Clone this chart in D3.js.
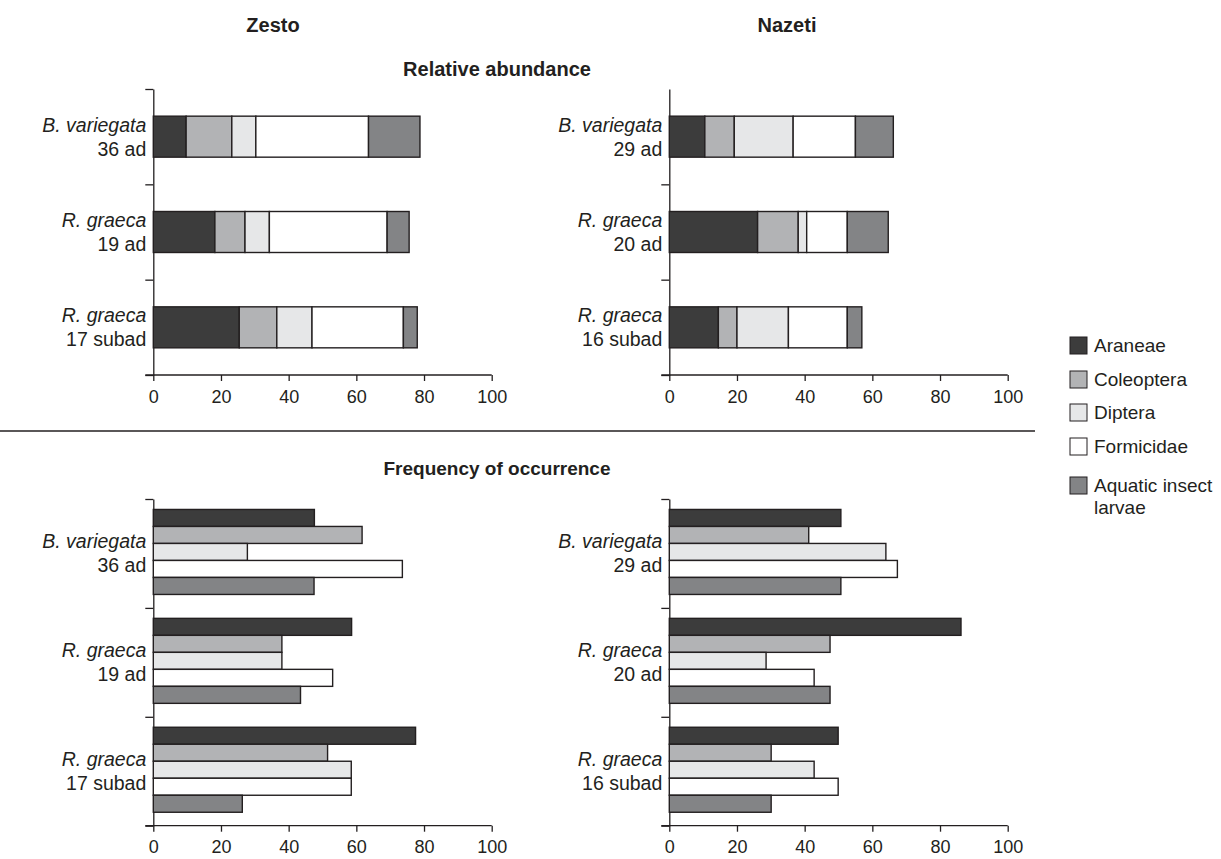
<!DOCTYPE html>
<html>
<head>
<meta charset="utf-8">
<script src="https://cdn.jsdelivr.net/npm/d3@7"></script>
<style>
  body { margin: 0; background: #fff; }
  text { font-family: "Liberation Sans", Arial, sans-serif; fill: #231f20; }
</style>
</head>
<body>
<div id="chart-area"></div>
<script>
// Data
var categories = ["Araneae", "Coleoptera", "Diptera", "Formicidae", "Aquatic insect larvae"];
var colors = ["#3c3c3c", "#b2b3b5", "#e6e7e8", "#ffffff", "#838486"];
var groupsZesto = [["B. variegata", "36 ad"], ["R. graeca", "19 ad"], ["R. graeca", "17 subad"]];
var groupsNazeti = [["B. variegata", "29 ad"], ["R. graeca", "20 ad"], ["R. graeca", "16 subad"]];
var xTicks = [0, 20, 40, 60, 80, 100];

// relative abundance (%), one row per group, segments in category order
var abundZesto = [
    [9.7, 13.5, 7.1, 33.3, 15.2],
    [18.2, 8.9, 7.2, 34.8, 6.5],
    [25.4, 11.1, 10.4, 27.0, 4.1]
];
var abundNazeti = [
    [10.5, 8.7, 17.4, 18.4, 11.2],
    [26.1, 12.0, 2.5, 12.0, 12.1],
    [14.5, 5.5, 15.2, 17.4, 4.3]
];
// frequency of occurrence (%)
var freqZesto = [
    [47.6, 61.7, 27.8, 73.6, 47.5],
    [58.6, 38.0, 38.0, 53.0, 43.5],
    [77.5, 51.5, 58.5, 58.5, 26.3]
];
var freqNazeti = [
    [50.7, 41.2, 64.0, 67.4, 50.7],
    [86.2, 47.5, 28.6, 42.8, 47.5],
    [49.9, 30.1, 42.8, 49.9, 30.1]
];

var W = 1221, H = 859;
var ink = "#231f20";

var svg = d3.select("#chart-area")
    .append("svg")
    .attr("width", W)
    .attr("height", H);

var color = d3.scaleOrdinal().domain(categories).range(colors);

// Titles
function title(txt, x, y, size) {
    svg.append("text")
        .attr("x", x).attr("y", y)
        .attr("text-anchor", "middle")
        .attr("font-size", size + "px")
        .attr("font-weight", "bold")
        .text(txt);
}
title("Zesto", 273, 32, 20);
title("Nazeti", 787, 32, 20);
title("Relative abundance", 497, 76, 20);
title("Frequency of occurrence", 497, 475, 19);

// separator
svg.append("line")
    .attr("x1", 0).attr("x2", 1035)
    .attr("y1", 431).attr("y2", 431)
    .attr("stroke", ink).attr("stroke-width", 1.3);

function panel(opts) {
    var g = svg.append("g")
        .attr("transform", "translate(" + opts.left + "," + opts.top + ")");
    var width = 338.4, height = opts.height;

    var x = d3.scaleLinear().domain([0, 100]).range([0, width]);
    var y = d3.scaleBand().domain(d3.range(opts.groups.length)).range([0, height]);
    var yb = d3.scaleLinear().domain([0, opts.groups.length]).range([0, height]);

    // y axis with ticks at group boundaries
    var yTickVals = opts.topTick ? [0, 1, 2, 3] : [1, 2, 3];
    var yAxis = g.append("g")
        .call(d3.axisLeft(yb).tickValues(yTickVals).tickSize(8).tickSizeOuter(0).tickFormat(""));
    yAxis.selectAll("line, path").attr("stroke", ink).attr("stroke-width", 1.3);

    // x axis
    var xAxis = g.append("g")
        .attr("transform", "translate(0," + height + ")")
        .call(d3.axisBottom(x).tickValues(xTicks).tickSize(6).tickSizeOuter(0).tickPadding(9));
    xAxis.select(".domain").attr("d", "M-8,0H" + width);
    xAxis.selectAll("line, path").attr("stroke", ink).attr("stroke-width", 1.3);
    xAxis.selectAll("text")
        .attr("font-size", "18px")
        .attr("font-family", "Liberation Sans, Arial, sans-serif")
        .attr("fill", ink);

    // group labels
    opts.groups.forEach(function(gr, i) {
        var cy = y(i) + y.bandwidth() / 2;
        var t = g.append("text")
            .attr("x", -7)
            .attr("text-anchor", "end")
            .attr("font-size", "19.5px");
        t.append("tspan").attr("x", -7).attr("y", cy - 5)
            .attr("font-style", "italic").text(gr[0]);
        t.append("tspan").attr("x", -7).attr("y", cy + 19).text(gr[1]);
    });

    if (opts.stacked) {
        var barH = 41;
        opts.values.forEach(function(row, i) {
            var cum = 0;
            var cy = y(i) + y.bandwidth() / 2;
            row.forEach(function(v, k) {
                g.append("rect")
                    .attr("x", x(cum))
                    .attr("y", cy - barH / 2)
                    .attr("width", x(cum + v) - x(cum))
                    .attr("height", barH)
                    .attr("fill", color(categories[k]))
                    .attr("stroke", ink)
                    .attr("stroke-width", 1.4);
                cum += v;
            });
        });
    } else {
        var inner = d3.scaleBand().domain(categories).range([0, 85]);
        opts.values.forEach(function(row, i) {
            var top = y(i) + y.bandwidth() / 2 - 42.5 - 1.5;
            row.forEach(function(v, k) {
                g.append("rect")
                    .attr("x", x(0))
                    .attr("y", top + inner(categories[k]))
                    .attr("width", x(v))
                    .attr("height", inner.bandwidth())
                    .attr("fill", color(categories[k]))
                    .attr("stroke", ink)
                    .attr("stroke-width", 1.4);
            });
        });
    }
}

panel({ left: 153.3, top: 89, height: 286, groups: groupsZesto, values: abundZesto, stacked: true, topTick: true });
panel({ left: 669.3, top: 89, height: 286, groups: groupsNazeti, values: abundNazeti, stacked: true, topTick: false });
panel({ left: 153.3, top: 499, height: 326.7, groups: groupsZesto, values: freqZesto, stacked: false, topTick: true });
panel({ left: 669.3, top: 499, height: 326.7, groups: groupsNazeti, values: freqNazeti, stacked: false, topTick: true });

// Legend
var legend = svg.append("g").attr("transform", "translate(1070,0)");
var legendY = [337, 371, 404, 438, 477];
categories.forEach(function(c, k) {
    legend.append("rect")
        .attr("x", 0).attr("y", legendY[k])
        .attr("width", 17).attr("height", 17)
        .attr("fill", color(c))
        .attr("stroke", ink)
        .attr("stroke-width", 1);
    var lbl = legend.append("text")
        .attr("x", 24)
        .attr("font-size", "19px");
    if (c === "Aquatic insect larvae") {
        lbl.append("tspan").attr("x", 24).attr("y", legendY[k] + 15).text("Aquatic insect");
        lbl.append("tspan").attr("x", 24).attr("y", legendY[k] + 37).text("larvae");
    } else {
        lbl.attr("y", legendY[k] + 15).text(c);
    }
});
</script>
</body>
</html>
